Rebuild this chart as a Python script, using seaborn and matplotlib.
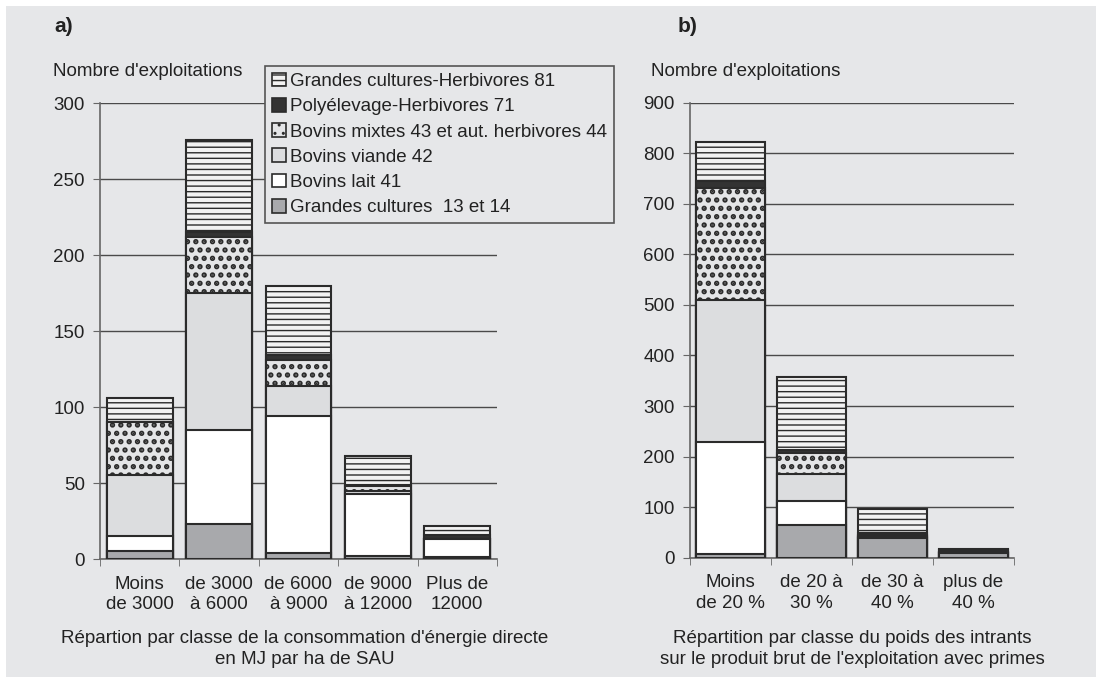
import numpy as np
import pandas as pd
import seaborn as sns
import matplotlib.pyplot as plt
from matplotlib.patches import Patch, Rectangle

# séries (ordre d'empilement, du bas vers le haut)
series = ["Grandes cultures  13 et 14", "Bovins lait 41", "Bovins viande 42",
          "Bovins mixtes 43 et aut. herbivores 44", "Polyélevage-Herbivores 71",
          "Grandes cultures-Herbivores 81"]

# a) consommation d'énergie directe
classes_a = ["Moins\nde 3000", "de 3000\nà 6000", "de 6000\nà 9000",
             "de 9000\nà 12000", "Plus de\n12000"]
gc_a = [5, 23, 4, 2, 1]
lait_a = [10, 62, 90, 41, 12]
viande_a = [40, 90, 20, 2, 0]
mixtes_a = [35, 37, 17, 3, 0]
poly_a = [0, 3, 3, 1, 3]
gch_a = [16, 61, 46, 19, 6]

# b) poids des intrants
classes_b = ["Moins\nde 20 %", "de 20 à\n30 %", "de 30 à\n40 %", "plus de\n40 %"]
gc_b = [8, 65, 38, 9]
lait_b = [220, 47, 2, 1]
viande_b = [282, 54, 2, 1]
mixtes_b = [221, 42, 2, 1]
poly_b = [15, 6, 4, 3]
gch_b = [76, 143, 48, 3]

colors = ["#a8a9ac", "#ffffff", "#dcdddf", "#e4e5e7", "#333333", "#f2f2f2"]
hatches = [None, None, None, "..", None, "---"]
bg = "#e6e7e9"
edge = "#2b2b2b"
txt = "#222222"
fs = 13.5

plt.rcParams["font.family"] = ["Liberation Sans", "DejaVu Sans"]
plt.rcParams["hatch.linewidth"] = 1.0


def make_df(classes, values):
    rows = []
    for j, c in enumerate(classes):
        cum = 0
        for s, v in zip(series, values):
            cum += v[j]
            rows.append({"classe": c, "serie": s, "cum": cum})
    return pd.DataFrame(rows)


df_a = make_df(classes_a, [gc_a, lait_a, viande_a, mixtes_a, poly_a, gch_a])
df_b = make_df(classes_b, [gc_b, lait_b, viande_b, mixtes_b, poly_b, gch_b])

fig = plt.figure(figsize=(11.02, 6.82), dpi=100)
fig.patch.set_facecolor("white")
fig.patches.append(Rectangle((6 / 1102, 5 / 682), 1090 / 1102, 671 / 682,
                             transform=fig.transFigure, facecolor=bg,
                             edgecolor="none", zorder=-10))

ax_a = fig.add_axes([100 / 1102, 123 / 682, 397 / 1102, 455.7 / 682])
ax_b = fig.add_axes([690 / 1102, 124.3 / 682, 324 / 1102, 455 / 682])


def draw(ax, df, classes, ymax, step, width):
    ax.set_facecolor("none")
    for i in reversed(range(len(series))):
        sub = df[df["serie"] == series[i]]
        lw_h = 2.6 if hatches[i] == ".." else 1.0
        plt.rcParams["hatch.linewidth"] = lw_h
        sns.barplot(data=sub, x="classe", y="cum", order=classes, ax=ax,
                    color=colors[i], saturation=1, width=width,
                    edgecolor=edge, linewidth=1.5, hatch=hatches[i],
                    errorbar=None, zorder=3)
        for p in ax.patches[-len(classes):]:
            if hasattr(p, "set_hatch_linewidth"):
                p.set_hatch_linewidth(lw_h)
    plt.rcParams["hatch.linewidth"] = 1.0
    ax.set_xlim(-0.5, len(classes) - 0.5)
    ax.set_ylim(0, ymax)
    ax.set_yticks(np.arange(0, ymax + 1, step))
    ax.set_xticks(np.arange(-0.5, len(classes), 1), minor=True)
    ax.set_xlabel("")
    ax.set_ylabel("")
    ax.yaxis.grid(True, color="#4a4a4a", linewidth=1)
    ax.set_axisbelow(True)
    for s in ["top", "right"]:
        ax.spines[s].set_visible(False)
    for s in ["left", "bottom"]:
        ax.spines[s].set_color("#666666")
        ax.spines[s].set_linewidth(1.2)
    ax.tick_params(axis="x", which="major", length=0, pad=12,
                   labelsize=fs, labelcolor=txt)
    ax.tick_params(axis="x", which="minor", length=5, color="#666666")
    ax.tick_params(axis="y", length=5, color="#666666", pad=6,
                   labelsize=fs, labelcolor=txt)
    for t in ax.get_xticklabels():
        t.set_linespacing(1.25)


draw(ax_a, df_a, classes_a, 300, 50, 0.83)
draw(ax_b, df_b, classes_b, 900, 100, 0.84)

# textes
fig.text(54 / 1102, 1 - 27 / 682, "a)", fontsize=15, fontweight="bold",
         color=txt, va="center")
fig.text(678 / 1102, 1 - 27 / 682, "b)", fontsize=15, fontweight="bold",
         color=txt, va="center")
fig.text(53 / 1102, 1 - 76 / 682, "Nombre d'exploitations", fontsize=fs,
         color=txt, va="baseline")
fig.text(651 / 1102, 1 - 76 / 682, "Nombre d'exploitations", fontsize=fs,
         color=txt, va="baseline")
fig.text(305 / 1102, 1 - 630 / 682,
         "Répartion par classe de la consommation d'énergie directe\nen MJ par ha de SAU",
         fontsize=fs, color=txt, ha="center", va="top", linespacing=1.3)
fig.text(852 / 1102, 1 - 630 / 682,
         "Répartition par classe du poids des intrants\nsur le produit brut de l'exploitation avec primes",
         fontsize=fs, color=txt, ha="center", va="top", linespacing=1.3)

# légende
handles = [Patch(facecolor=colors[i], edgecolor=edge, hatch=hatches[i],
                 linewidth=1.2, label=series[i])
           for i in reversed(range(len(series)))]
leg = fig.legend(handles=handles, loc="upper left",
                 bbox_to_anchor=(265 / 1102, 1 - 66 / 682),
                 fontsize=fs, frameon=True, fancybox=False,
                 handlelength=0.75, handleheight=0.75, handletextpad=0.25,
                 labelspacing=0.42, borderpad=0.35, borderaxespad=0)
leg.get_frame().set_facecolor(bg)
leg.get_frame().set_edgecolor("#555555")
leg.get_frame().set_linewidth(1.2)
leg.get_frame().set_alpha(1)
for t in leg.get_texts():
    t.set_color(txt)

fig.savefig("out.png", dpi=100, facecolor=fig.get_facecolor())
